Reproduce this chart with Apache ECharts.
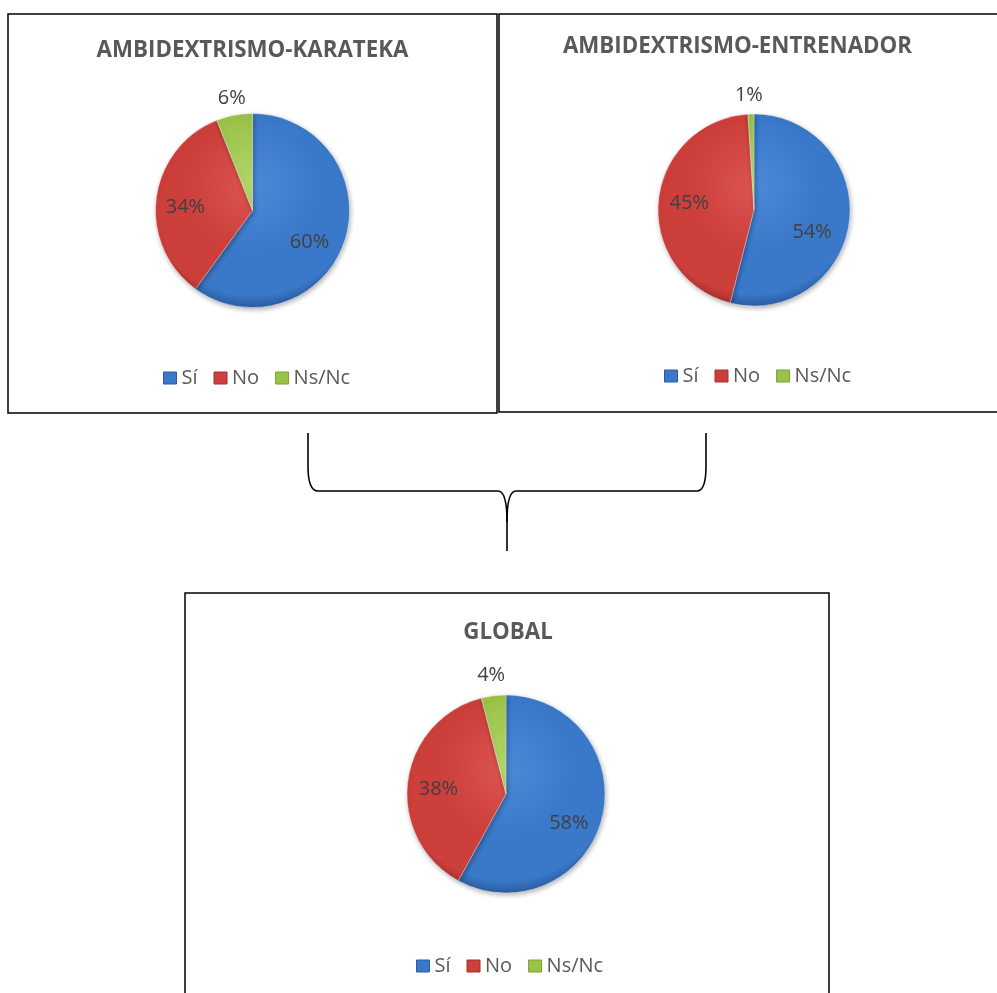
<!DOCTYPE html>
<html>
<head>
<meta charset="utf-8">
<script src="https://cdn.jsdelivr.net/npm/echarts@6/dist/echarts.min.js"></script>
<style>
html,body{margin:0;padding:0;background:#fff;}
#main{width:997px;height:993px;}
</style>
</head>
<body>
<div id="main"></div>
<script>
// ---- data ----
const categories = ['Sí', 'No', 'Ns/Nc'];
const karatekaValues = [60, 34, 6];
const entrenadorValues = [54, 45, 1];
const globalValues = [58, 38, 4];
const chartTitles = ['AMBIDEXTRISMO-KARATEKA', 'AMBIDEXTRISMO-ENTRENADOR', 'GLOBAL'];

// ---- styles / layout ----
const FONT = "'Open Sans', 'Liberation Sans', sans-serif";
const baseColors = ['#3a79c9', '#cc3f3b', '#9bc348'];
const shades = [
  ['#4a8ad8', '#3a79c9', '#2b5c9f'],
  ['#dc5450', '#cc3f3b', '#a3302c'],
  ['#b2d66c', '#9bc348', '#7b9f33']
];
const pies = [
  { values: karatekaValues, center: [252.5, 210.5], r: 97, title: [252.5, 39.5], legend: [163, 368],
    nudge: [[8, 16], [-16, 3.5], [-11, -61.5]] },
  { values: entrenadorValues, center: [754, 210], r: 96, title: [737.5, 36], legend: [664, 366],
    nudge: [[7.5, 16], [-14, -2], [-3.5, -63.5]] },
  { values: globalValues, center: [506, 794], r: 99, title: [508, 622], legend: [416, 956],
    nudge: [[12, 16.5], [-15.5, 2], [-8.3, -66.5]] }
];

function fillFor(i, p) {
  const s = shades[i];
  return {
    type: 'radial', global: true,
    x: p.center[0], y: p.center[1] - p.r * 0.25, r: p.r * 1.25,
    colorStops: [
      { offset: 0, color: s[0] },
      { offset: 0.55, color: s[1] },
      { offset: 0.9, color: s[1] },
      { offset: 1, color: s[2] }
    ]
  };
}

const braceStyle = { fill: 'none', stroke: '#000', lineWidth: 1.6 };
function seg(x1, y1, x2, y2) {
  return { type: 'line', shape: { x1, y1, x2, y2 }, style: braceStyle, z: 0 };
}
function curve(x1, y1, cx, cy, x2, y2) {
  return { type: 'bezierCurve', shape: { x1, y1, cpx1: cx, cpy1: cy, x2, y2 }, style: braceStyle, z: 0 };
}

const chart = echarts.init(document.getElementById('main'), null, { renderer: 'canvas' });

const option = {
  backgroundColor: '#ffffff',
  animation: false,
  title: pies.map((p, k) => ({
    text: chartTitles[k],
    left: p.title[0], top: p.title[1], textAlign: 'center', padding: 0,
    textStyle: { fontFamily: FONT, fontWeight: 'bold', fontSize: 22.3, lineHeight: 22, color: '#595959' }
  })),
  legend: pies.map((p, k) => ({
    left: p.legend[0], top: p.legend[1], padding: 0,
    orient: 'horizontal', itemWidth: 13, itemHeight: 12, itemGap: 16,
    selectedMode: false,
    icon: 'rect',
    data: categories.map((c, i) => ({ name: c, itemStyle: { color: baseColors[i], borderColor: shades[i][2], borderWidth: 1 } })),
    textStyle: { fontFamily: FONT, fontSize: 20, lineHeight: 20, color: '#595959' }
  })),
  graphic: [
    { type: 'rect', shape: { x: 8, y: 14, width: 489, height: 399 }, style: { fill: 'none', stroke: '#000', lineWidth: 1.5 }, z: 0 },
    { type: 'rect', shape: { x: 499, y: 14, width: 502, height: 398 }, style: { fill: 'none', stroke: '#000', lineWidth: 1.5 }, z: 0 },
    { type: 'rect', shape: { x: 185, y: 593, width: 644, height: 420 }, style: { fill: 'none', stroke: '#000', lineWidth: 1.5 }, z: 0 },
    seg(308, 433, 308, 466),
    curve(308, 466, 308, 491, 318, 491),
    seg(318, 491, 498, 491),
    curve(498, 491, 507, 491, 507, 522),
    seg(507, 522, 507, 551),
    curve(507, 522, 507, 491, 516, 491),
    seg(516, 491, 697, 491),
    curve(697, 491, 706, 491, 706, 466),
    seg(706, 466, 706, 433)
  ],
  series: pies.map((p, k) => ({
    type: 'pie',
    name: chartTitles[k],
    center: p.center,
    radius: [0, p.r],
    startAngle: 90,
    clockwise: true,
    avoidLabelOverlap: false,
    minShowLabelAngle: 0,
    data: categories.map((c, i) => ({
      name: c, value: p.values[i],
      itemStyle: { color: fillFor(i, p) }
    })),
    itemStyle: {
      borderColor: 'rgba(255,255,255,0.35)', borderWidth: 1,
      shadowBlur: 5, shadowColor: 'rgba(0,0,0,0.3)', shadowOffsetX: 1, shadowOffsetY: 2
    },
    label: {
      show: true, position: 'inside',
      formatter: (d) => Math.round(d.percent) + '%',
      fontFamily: FONT, fontSize: 20, lineHeight: 20, color: '#404040'
    },
    labelLine: { show: false },
    labelLayout: (params) => {
      const n = p.nudge[params.dataIndex];
      return { dx: n[0], dy: n[1] };
    },
    emphasis: { disabled: true }
  }))
};
chart.setOption(option);
</script>
</body>
</html>
